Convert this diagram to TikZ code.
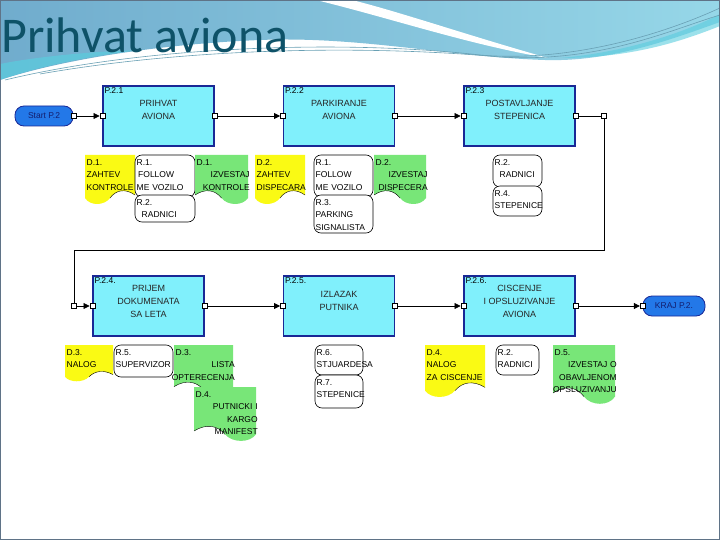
\documentclass[tikz,border=0pt]{standalone}
\usepackage{fontspec}
\setmainfont{Liberation Sans}
\newfontfamily\titlefont{Carlito}
\usetikzlibrary{arrows.meta}
\definecolor{procfill}{RGB}{128,240,252}
\definecolor{procdraw}{RGB}{25,40,150}
\definecolor{pillfill}{RGB}{35,120,232}
\definecolor{navytext}{RGB}{20,30,110}
\definecolor{docyel}{RGB}{250,250,20}
\definecolor{docgrn}{RGB}{120,230,120}
\definecolor{titlecol}{RGB}{14,82,104}
\definecolor{bandA}{RGB}{112,172,205}
\definecolor{bandB}{RGB}{150,215,232}
\definecolor{bandC}{RGB}{90,205,222}
\definecolor{streakcol}{RGB}{105,160,180}
\definecolor{framecol}{RGB}{95,115,135}
\newcommand\ydoc[6]{%
\fill[docyel] (#2,#3) -- (#2+#4,#3) -- (#2+#4,#3+0.8*#5) .. controls (#2+0.8*#4,#3+0.66*#5) and (#2+0.62*#4,#3+0.7*#5) .. (#2+0.5*#4,#3+0.86*#5) .. controls (#2+0.38*#4,#3+1.02*#5) and (#2+0.1*#4,#3+1.02*#5) .. (#2,#3+0.86*#5) -- cycle;
\path[waveline] (#2+#4,#3+0.8*#5) .. controls (#2+0.8*#4,#3+0.66*#5) and (#2+0.62*#4,#3+0.7*#5) .. (#2+0.5*#4,#3+0.86*#5);
\node[doctext,text width=#4pt] (#1) at (#2,#3) {#6};}
\newcommand\gdoc[6]{%
\fill[docgrn] (#2,#3) -- (#2+#4,#3) -- (#2+#4,#3+0.86*#5) .. controls (#2+0.9*#4,#3+1.02*#5) and (#2+0.62*#4,#3+1.02*#5) .. (#2+0.5*#4,#3+0.86*#5) .. controls (#2+0.38*#4,#3+0.7*#5) and (#2+0.2*#4,#3+0.66*#5) .. (#2,#3+0.8*#5) -- cycle;
\path[waveline] (#2+0.5*#4,#3+0.86*#5) .. controls (#2+0.38*#4,#3+0.7*#5) and (#2+0.2*#4,#3+0.66*#5) .. (#2,#3+0.8*#5);
\node[doctext,text width=#4pt] (#1) at (#2,#3) {#6};}
\newcommand\rbox[6]{%
\path[resst] (#2,#3) rectangle (#2+#4,#3+#5);
\node[doctext,text width=#4pt] (#1) at (#2,#3) {#6};}
\newcommand\rline[1]{\hspace*{\fill}\makebox[0pt][r]{#1}}
\begin{document}
\begin{tikzpicture}[x=1pt,y=-1pt,
  proc/.style={draw=procdraw, fill=procfill, line width=1.4pt, minimum width=111pt, minimum height=60pt, inner sep=0pt},
  proctext/.style={font=\fontsize{9}{13}\selectfont, align=center, inner sep=0pt, text=black!85},
  idlab/.style={font=\fontsize{8.5}{10}\selectfont, inner sep=2pt, anchor=north west},
  pill/.style={draw=procdraw, fill=pillfill, line width=0.8pt, rounded corners=9pt, minimum height=20pt, font=\fontsize{8.5}{10}\selectfont, text=navytext, inner sep=2pt},
  port/.style={draw=black, fill=white, line width=0.5pt, minimum size=5pt, inner sep=0pt},
  conn/.style={draw=black, line width=0.7pt},
  arr/.style={-{Triangle[length=6pt,width=6pt]}},
  doctext/.style={font=\fontsize{8.5}{12.5}\selectfont, align=left, anchor=north west, inner xsep=1.5pt, inner ysep=4pt},
  resst/.style={draw=black, fill=white, line width=0.6pt, rounded corners=7pt},
  waveline/.style={draw=black, line width=0.4pt},
  streak/.style={draw=streakcol, line width=0.6pt}]
\useasboundingbox (0,0) rectangle (720,540);
\fill[white] (0,0) rectangle (720,540);
% background swoosh
\shade[left color=bandA, right color=bandB] (0,0) -- (720,0) -- (720,22) .. controls (670,40) and (610,62) .. (545,60) .. controls (450,57) and (360,36) .. (260,40) .. controls (160,44) and (60,60) .. (0,80) -- cycle;
\fill[bandC, opacity=0.7] (0,80) .. controls (40,66) and (90,56) .. (140,50) .. controls (80,52) and (30,58) .. (0,64) -- cycle;
\fill[white] (316,0) .. controls (390,18) and (470,45) .. (548,58) .. controls (470,36) and (400,12) .. (352,0) -- cycle;
\fill[bandC, opacity=0.6] (560,58) .. controls (630,52) and (690,30) .. (720,14) -- (720,26) .. controls (680,42) and (630,58) .. (560,58) -- cycle;
\draw[streak] (5,80) .. controls (150,45) and (350,40) .. (480,55) .. controls (560,62) and (650,40) .. (720,8);
\draw[streak] (40,74) .. controls (200,46) and (380,46) .. (500,57) .. controls (600,63) and (670,30) .. (720,15);
\draw[framecol, line width=1.2pt] (0.6,0.6) rectangle (719.4,539.4);
% title
\node[anchor=base west, font=\titlefont\fontsize{50}{52}\selectfont, text=titlecol, inner sep=0pt] (title) at (1,53) {Prihvat aviona};
% process boxes
\node[proc] (b21) at (158.5,116) {};
\node[proc] (b22) at (339,116) {};
\node[proc] (b23) at (519.5,116) {};
\node[proc] (b24) at (148.5,306) {};
\node[proc] (b25) at (339,306) {};
\node[proc] (b26) at (519.5,306) {};
\node[idlab] (l21) at (b21.north west) {P.2.1};
\node[idlab] (l22) at (b22.north west) {P.2.2};
\node[idlab] (l23) at (b23.north west) {P.2.3};
\node[idlab] (l24) at (b24.north west) {P.2.4.};
\node[idlab] (l25) at (b25.north west) {P.2.5.};
\node[idlab] (l26) at (b26.north west) {P.2.6.};
\node[proctext, yshift=6pt] (t21) at (b21) {PRIHVAT\\AVIONA};
\node[proctext, yshift=6pt] (t22) at (b22) {PARKIRANJE\\AVIONA};
\node[proctext, yshift=6pt] (t23) at (b23) {POSTAVLJANJE\\STEPENICA};
\node[proctext, yshift=5pt] (t24) at (b24) {PRIJEM\\DOKUMENATA\\SA LETA};
\node[proctext, yshift=5pt] (t25) at (b25) {IZLAZAK\\PUTNIKA};
\node[proctext, yshift=5pt] (t26) at (b26) {CISCENJE\\I OPSLUZIVANJE\\AVIONA};
% start / end
\node[pill, minimum width=58pt] (start) at (44,116) {Start P.2};
\node[pill, minimum width=62pt] (kraj) at (674,306) {KRAJ P.2.};
% ports
\node[port] (ps) at (start.east) {};
\node[port] (p21i) at (b21.west) {};
\node[port] (p21o) at (b21.east) {};
\node[port] (p22i) at (b22.west) {};
\node[port] (p22o) at (b22.east) {};
\node[port] (p23i) at (b23.west) {};
\node[port] (p23o) at (b23.east) {};
\node[port] (c1) at (604,116) {};
\node[port] (c2) at (74,306) {};
\coordinate (k1) at (604,250);
\coordinate (k2) at (74,250);
\node[port] (p24i) at (b24.west) {};
\node[port] (p24o) at (b24.east) {};
\node[port] (p25i) at (b25.west) {};
\node[port] (p25o) at (b25.east) {};
\node[port] (p26i) at (b26.west) {};
\node[port] (p26o) at (b26.east) {};
\node[port] (pk) at (kraj.west) {};
% connectors
\draw[conn,arr] (ps) -- (p21i);
\draw[conn,arr] (p21o) -- (p22i);
\draw[conn,arr] (p22o) -- (p23i);
\draw[conn] (p23o) -- (c1);
\draw[conn] (c1) -- (k1) -- (k2) -- (c2);
\draw[conn,arr] (c2) -- (p24i);
\draw[conn,arr] (p24o) -- (p25i);
\draw[conn,arr] (p25o) -- (p26i);
\draw[conn,arr] (p26o) -- (pk);
% documents and resources, row 1
\ydoc{d1in}{85}{155}{50}{50}{D.1.\\ZAHTEV\\KONTROLE}
\rbox{r1a}{135}{155}{60}{42}{R.1.\\\hspace*{1.5pt}FOLLOW\\ME VOZILO}
\rbox{r2a}{135}{195}{60}{27}{R.2.\\\hspace*{5pt}RADNICI}
\gdoc{d1out}{195}{155}{53}{50}{D.1.\\\rline{IZVESTAJ}\\\rline{KONTROLE}}
\ydoc{d2in}{255}{155}{50}{50}{D.2.\\ZAHTEV\\DISPECARA}
\rbox{r1b}{314}{155}{59}{42}{R.1.\\FOLLOW\\ME VOZILO}
\rbox{r3}{314}{195}{59}{38}{R.3.\\PARKING\\SIGNALISTA}
\gdoc{d2out}{374}{155}{52}{50}{D.2.\\\rline{IZVESTAJ}\\\rline{DISPECERA}}
\rbox{r2b}{493}{155}{49}{32}{R.2.\\\hspace*{5pt}RADNICI}
\rbox{r4}{493}{186}{49}{30}{R.4.\\STEPENICE}
% row 2
\ydoc{d3in}{65}{345}{48}{37}{D.3.\\NALOG}
\rbox{r5}{114}{345}{59}{32}{R.5.\\SUPERVIZOR}
\gdoc{d3out}{174}{345}{59}{52}{D.3.\\\rline{LISTA}\\\rline{OPTERECENJA}}
\gdoc{d4out}{194}{387}{62}{55}{D.4.\\\rline{PUTNICKI I}\\\rline{KARGO}\\\rline{MANIFEST}}
\rbox{r6}{315}{345}{48}{30}{R.6.\\STJUARDESA}
\rbox{r7}{315}{375}{48}{33}{R.7.\\STEPENICE}
\ydoc{d4in}{425}{345}{60}{53}{D.4.\\NALOG\\ZA CISCENJE}
\rbox{r2c}{496}{345}{43}{30}{R.2.\\RADNICI}
\gdoc{d5out}{553}{345}{62}{60}{D.5.\\\rline{IZVESTAJ O}\\\rline{OBAVLJENOM}\\\rline{OPSLUZIVANJU}}
\end{tikzpicture}
\end{document}
